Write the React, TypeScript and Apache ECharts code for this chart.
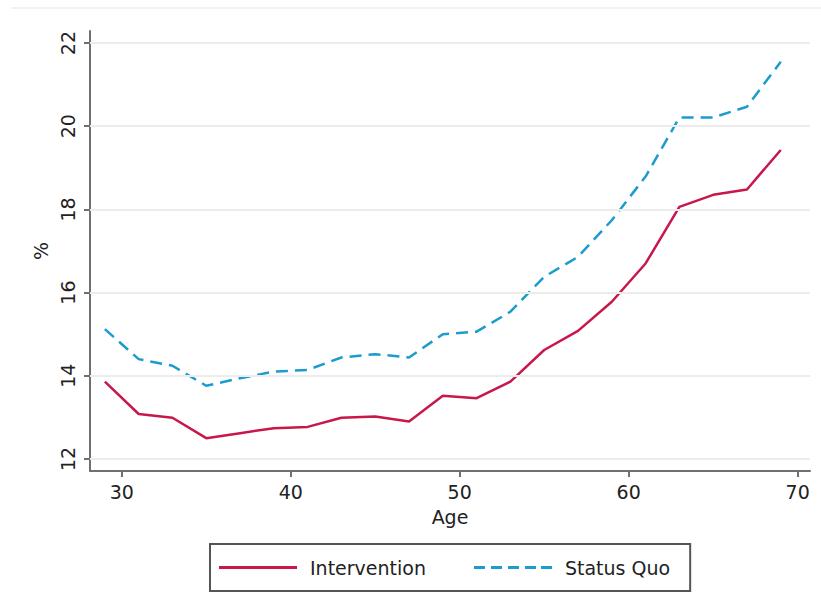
import React, { useEffect, useRef } from "react";
import * as echarts from "echarts";

const ages = [29, 31, 33, 35, 37, 39, 41, 43, 45, 47, 49, 51, 53, 55, 57, 59, 61, 63, 65, 67, 69];
const intervention = [13.86, 13.08, 12.99, 12.5, 12.62, 12.74, 12.77, 12.99, 13.02, 12.9, 13.52, 13.46, 13.86, 14.62, 15.08, 15.78, 16.7, 18.06, 18.35, 18.48, 19.43];
const statusQuo = [15.12, 14.4, 14.24, 13.76, 13.94, 14.1, 14.14, 14.44, 14.52, 14.44, 15.0, 15.06, 15.54, 16.38, 16.86, 17.74, 18.79, 20.21, 20.21, 20.47, 21.55];
const xTicks = [30, 40, 50, 60, 70];
const yTicks = [12, 14, 16, 18, 20, 22];
const seriesNames = ["Intervention", "Status Quo"];

const FONT = "DejaVu Sans";
const TEXT = "#222";
const AXIS = "#707070";
const RED = "#C8174A";
const BLUE = "#1B9BCE";

const SOLID_ICON = "path://M0,0H78V3H0Z";
const DASH_ICON = "path://M0,0h11v3h-11z M17,0h11v3h-11z M34,0h11v3h-11z M51,0h11v3h-11z M67,0h11v3h-11z";

export default function App() {
  const ref = useRef<HTMLDivElement>(null);
  useEffect(() => {
    if (!ref.current) return;
    const chart = echarts.init(ref.current, undefined, { renderer: "svg" });
    chart.setOption({
      animation: false,
      backgroundColor: "#ffffff",
      textStyle: { fontFamily: FONT },
      grid: { left: 90, right: 11, top: 31, bottom: 128, containLabel: false },
      graphic: [
        {
          type: "line",
          shape: { x1: 11, y1: 8, x2: 821, y2: 8 },
          style: { stroke: "#f2f2f2", lineWidth: 2 },
          silent: true,
        },
      ],
      legend: {
        data: [
          { name: seriesNames[0], icon: SOLID_ICON },
          { name: seriesNames[1], icon: DASH_ICON },
        ],
        left: 210,
        top: 544,
        orient: "horizontal",
        padding: [14, 20, 14, 9],
        itemGap: 48,
        itemWidth: 78,
        itemHeight: 3,
        borderColor: "#555",
        borderWidth: 2,
        borderRadius: 0,
        textStyle: { fontFamily: FONT, fontSize: 19, color: TEXT, padding: [0, 0, 0, 8] },
      },
      xAxis: {
        type: "value",
        min: 28.12,
        max: 70.73,
        name: "Age",
        nameLocation: "middle",
        nameGap: 36,
        nameTextStyle: { fontFamily: FONT, fontSize: 19, color: TEXT },
        axisLine: { show: true, onZero: false, lineStyle: { color: AXIS, width: 2 } },
        axisTick: { show: true, length: 6, lineStyle: { color: AXIS, width: 2 }, customValues: xTicks },
        axisLabel: { fontFamily: FONT, fontSize: 19, color: TEXT, margin: 11, customValues: xTicks },
        splitLine: { show: false },
      },
      yAxis: {
        type: "value",
        min: 11.71,
        max: 22.29,
        name: "%",
        nameLocation: "middle",
        nameGap: 36,
        nameRotate: 90,
        nameTextStyle: { fontFamily: FONT, fontSize: 19, color: TEXT },
        axisLine: { show: true, onZero: false, lineStyle: { color: AXIS, width: 2 } },
        axisTick: { show: true, length: 6, lineStyle: { color: AXIS, width: 2 }, customValues: yTicks },
        axisLabel: { fontFamily: FONT, fontSize: 19, color: TEXT, margin: 13, rotate: 90, customValues: yTicks },
        splitLine: { show: false },
      },
      series: [
        {
          name: "grid",
          type: "line",
          data: [],
          z: 0,
          silent: true,
          markLine: {
            silent: true,
            symbol: "none",
            label: { show: false },
            lineStyle: { color: "#ececec", width: 2, type: "solid" },
            data: yTicks.map((v) => ({ yAxis: v })),
          },
        },
        {
          name: seriesNames[0],
          type: "line",
          data: ages.map((a, i) => [a, intervention[i]]),
          symbol: "none",
          showSymbol: false,
          z: 3,
          lineStyle: { color: RED, width: 2.5, type: "solid" },
          itemStyle: { color: RED },
        },
        {
          name: seriesNames[1],
          type: "line",
          data: ages.map((a, i) => [a, statusQuo[i]]),
          symbol: "none",
          showSymbol: false,
          z: 3,
          lineStyle: { color: BLUE, width: 2.5, type: [12, 7] },
          itemStyle: { color: BLUE },
        },
      ],
    });
    return () => chart.dispose();
  }, []);
  return (
    <div
      ref={ref}
      style={{ position: "fixed", left: 0, top: 0, width: 821, height: 599, background: "#fff" }}
    />
  );
}
